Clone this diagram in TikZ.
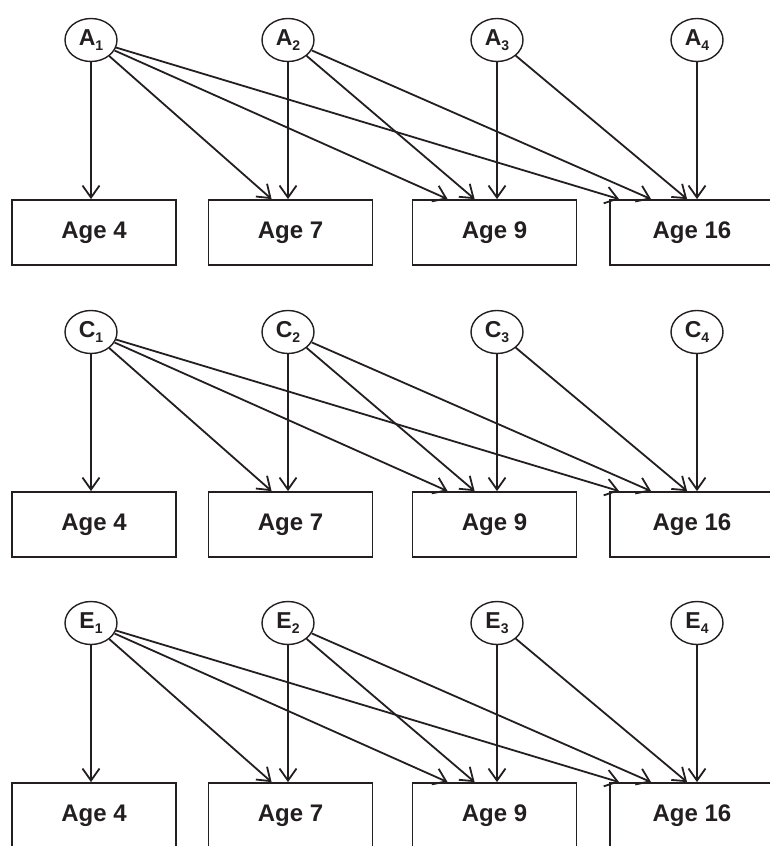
\documentclass[tikz,border=0pt]{standalone}
\usepackage{fontspec}
\setmainfont{Liberation Sans}
\usepackage{xcolor}
\definecolor{cInk}{HTML}{231F20}
\usepackage{tikz}
\usetikzlibrary{arrows.meta,shapes.geometric}
\tikzset{
  node-latent/.style={draw=cInk,line width=1.4pt,ellipse,inner sep=0pt,
    minimum width=52pt,minimum height=43pt,text=cInk,
    font=\fontsize{23}{23}\selectfont\bfseries},
  node-age/.style={draw=cInk,line width=1.8pt,rectangle,
    minimum width=164pt,minimum height=65pt,text=cInk,
    font=\fontsize{24}{24}\selectfont\bfseries},
  arrow/.style={-{Straight Barb[length=12pt,width=17pt]},line width=1.8pt,draw=cInk},
}
% latent factor label with a lowered index
\newcommand{\latlabel}[2]{#1\raisebox{-5pt}{\fontsize{14}{14}\selectfont #2}}

\begin{document}
\begin{tikzpicture}[x=1pt,y=-1pt]
  \useasboundingbox (0,0) rectangle (769,846);
  \foreach \L/\dy in {A/0,C/292,E/583}{
    % factors
    \node[node-latent] (\L1) at (91,40+\dy)  {\latlabel{\L}{1}};
    \node[node-latent] (\L2) at (288,40+\dy) {\latlabel{\L}{2}};
    \node[node-latent] (\L3) at (497,40+\dy) {\latlabel{\L}{3}};
    \node[node-latent] (\L4) at (697,40+\dy) {\latlabel{\L}{4}};
    % measurement occasions
    \node[node-age] (\L-b4)  at (94,232.5+\dy)  {Age 4};
    \node[node-age] (\L-b7)  at (290.5,232.5+\dy) {Age 7};
    \node[node-age] (\L-b9)  at (494.5,232.5+\dy) {Age 9};
    \node[node-age] (\L-b16) at (692,232.5+\dy) {Age 16};
    % loadings
    \draw[arrow] (\L1) -- (\L1 |- \L-b4.north);
    \draw[arrow] (\L1) -- ([xshift=64pt]\L-b7.north west);
    \draw[arrow] (\L1) -- ([xshift=36pt]\L-b9.north west);
    \draw[arrow] (\L1) -- ([xshift=10pt]\L-b16.north west);
    \draw[arrow] (\L2) -- (\L2 |- \L-b7.north);
    \draw[arrow] (\L2) -- ([xshift=63pt]\L-b9.north west);
    \draw[arrow] (\L2) -- ([xshift=42pt]\L-b16.north west);
    \draw[arrow] (\L3) -- (\L3 |- \L-b9.north);
    \draw[arrow] (\L3) -- ([xshift=78pt]\L-b16.north west);
    \draw[arrow] (\L4) -- (\L4 |- \L-b16.north);
  }
\end{tikzpicture}
\end{document}
